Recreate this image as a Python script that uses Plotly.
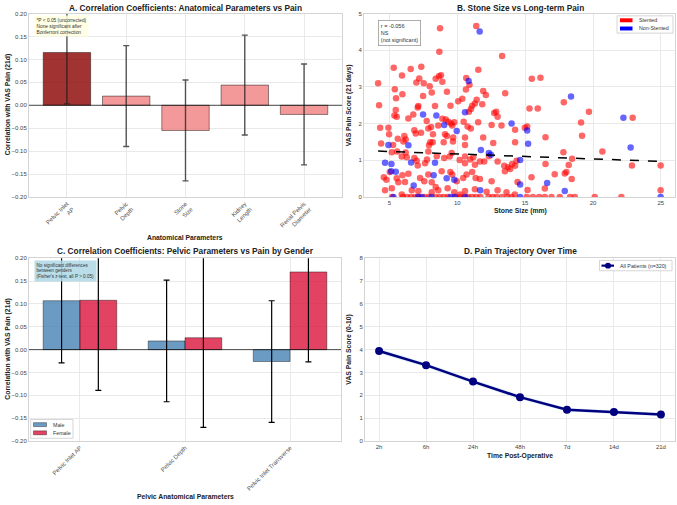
import numpy as np
import plotly.graph_objects as go

# ---------------- Data ----------------
# Panel A
A_PARAMS = ["Pelvic Inlet<br>AP", "Pelvic<br>Depth", "Stone<br>Size", "Kidney<br>Length", "Renal Pelvis<br>Diameter"]
A_CORR = [0.115, 0.020, -0.055, 0.044, -0.020]
A_ERR = [0.112, 0.110, 0.110, 0.109, 0.110]
A_SIG = [True, False, False, False, False]

# Panel B
STENTED_X = [8.73, 11.40, 8.68, 13.30, 5.32, 6.57, 7.35, 5.93, 11.55, 7.20, 6.99, 7.53, 8.41, 8.65, 8.80, 8.90,
             7.97, 4.17, 10.66, 10.90, 10.64, 5.40, 5.96, 8.12, 9.24, 7.48, 5.49, 4.24, 11.91, 12.11, 13.53, 11.43,
             10.37, 10.07, 11.84, 11.30, 11.10, 7.13, 8.36, 9.50,
             15.49, 16.13, 17.85, 19.70, 15.32, 15.93, 12.87, 22.92, 19.12, 19.19, 14.98, 15.15, 16.50, 14.26, 14.26,
             20.69, 17.82, 16.50, 18.46, 18.21, 22.87, 24.98, 14.26, 18.04, 17.92, 17.18, 15.47, 18.43, 14.44, 16.45,
             15.18, 24.98,
             15.12, 15.57, 16.03, 16.45, 16.94, 17.55, 18.31, 18.66, 20.13, 22.09,
             5.47, 5.54, 5.37, 7.09, 11.01, 10.86, 6.76, 6.40, 7.75, 8.90, 9.15, 9.34, 9.54, 9.63, 8.60, 8.07, 7.87,
             9.78, 10.47, 10.76, 11.00, 11.54, 12.53, 13.26, 12.97, 12.72, 4.32, 4.93, 4.98, 5.62, 6.10, 6.03, 6.20,
             5.27, 4.39, 6.84, 6.94, 7.33, 8.21, 9.10, 9.24, 9.00, 8.01, 7.92, 8.19, 9.68, 9.70, 10.57, 10.57, 11.91,
             12.33, 12.65, 6.20, 5.57, 5.18, 5.91, 6.28, 6.84, 7.01, 7.09, 7.63, 7.77, 7.87, 8.49, 9.04, 9.44, 9.59,
             10.18, 10.57, 10.96, 11.18, 11.30, 10.57, 11.67, 11.99, 12.97, 13.46, 13.75, 14.04, 14.37, 5.03, 4.59,
             4.78, 5.54, 5.96, 6.40, 5.66, 6.15, 7.26, 7.57, 7.87, 8.12, 8.41, 8.85, 9.49, 9.63, 9.96, 10.44, 10.69,
             11.10, 11.35, 11.67, 12.53, 13.51, 13.90, 4.68, 5.18, 6.65, 7.13, 8.12, 8.60, 9.29, 9.78, 10.57, 11.30,
             12.16, 12.97, 13.63, 14.24, 5.91, 10.22,
             5.2, 6.0, 6.3, 6.6, 6.9, 7.2, 7.6, 7.9, 8.4, 8.7, 9.0, 9.3, 9.9, 10.2, 10.5, 10.8, 11.1, 11.4, 11.7,
             12.3, 12.6, 12.9, 13.3, 13.7, 14.0]
STENTED_Y = [4.60, 4.66, 3.96, 3.84, 3.52, 3.49, 3.55, 3.31, 3.47, 3.23, 3.12, 3.10, 3.22, 3.29, 3.32, 3.14,
             3.02, 3.10, 3.24, 3.06, 2.93, 2.94, 2.80, 2.85, 2.87, 2.75, 2.69, 2.50, 2.89, 2.78, 2.83, 2.65,
             2.68, 2.61, 2.53, 2.55, 2.49, 2.48, 2.48, 2.49,
             3.22, 3.25, 2.58, 2.32, 2.41, 2.41, 2.32, 2.16, 2.03, 1.67, 1.89, 1.92, 1.63, 1.49, 1.83,
             1.24, 1.22, 0.90, 1.04, 0.87, 0.86, 0.86, 0.85, 0.68, 0.64, 0.62, 0.54, 0.49, 0.41, 0.23,
             0.19, 0.18,
             0, 0, 0, 0, 0, 0, 0, 0, 0, 0,
             2.37, 2.19, 2.22, 2.44, 2.40, 2.32, 2.25, 2.14, 2.07, 2.13, 2.11, 2.05, 2.00, 1.95, 1.95, 1.91, 1.87,
             2.04, 2.05, 1.92, 1.87, 2.04, 1.96, 1.95, 2.19, 2.29, 1.89, 1.89, 1.71, 1.59, 1.66, 1.51, 1.57,
             1.42, 1.46, 1.82, 1.73, 1.75, 1.71, 1.71, 1.66, 1.49, 1.49, 1.41, 1.49, 1.51, 1.62, 1.62, 1.42, 1.62,
             1.11, 1.47, 1.21, 1.24, 1.22, 1.10, 1.08, 1.06, 0.99, 0.86, 0.92, 1.02, 1.24, 1.11, 1.06, 1.10, 1.20,
             1.01, 1.10, 1.02, 1.08, 0.88, 0.92, 0.97, 0.97, 0.97, 0.85, 0.81, 0.90, 0.99, 0.68, 0.54,
             0.47, 0.51, 0.59, 0.63, 0.40, 0.41, 0.52, 0.43, 0.61, 0.40, 0.27, 0.70, 0.68, 0.61, 0.43, 0.52, 0.61,
             0.68, 0.52, 0.49, 0.43, 0.70, 0.76, 0.18, 0.24, 0.18, 0.16, 0.13, 0.18, 0.24, 0.13, 0.16, 0.21,
             0.14, 0.18, 0.13, 0.07, 0.07, 0.07,
             0, 0, 0, 0, 0, 0, 0, 0, 0, 0, 0, 0, 0, 0, 0, 0, 0, 0, 0,
             0, 0, 0, 0, 0, 0]
NONSTENTED_X = [11.65, 10.84, 18.38, 22.24, 15.15, 15.22, 22.77, 14.63, 14.63, 16.62, 17.92,
                7.48, 8.46, 10.57, 9.04, 9.96, 14.00, 4.93, 6.40, 11.74, 12.33, 12.48, 4.68, 5.15, 6.60, 8.36,
                5.13, 5.47, 6.79, 8.26, 9.22, 9.78, 11.69,
                5.3, 7.1, 7.4, 8.1, 9.5, 9.8, 10.6, 14.63, 24.98]
NONSTENTED_Y = [4.51, 3.16, 2.74, 2.16, 1.81, 1.45, 1.35, 1.01, 0.34, 0.38, 0.16,
                2.25, 2.22, 2.31, 1.96, 1.80, 2.00, 1.42, 1.41, 1.28, 1.20, 1.15, 0.93, 0.90, 0.94, 0.93,
                0.70, 0.69, 0.31, 0.59, 0.51, 0.47, 0.18,
                0, 0, 0, 0, 0, 0, 0, 0, 0]
# regression line of the full cohort as drawn in the reference (slope, intercept)
TREND_SLOPE = -0.0135
TREND_INTERCEPT = 1.307
B_R_TEXT = "r = -0.056<br>NS<br>(not significant)"
B_GROUPS = ["Stented", "Non-Stented"]

# Panel C
C_PARAMS = ["Pelvic Inlet AP", "Pelvic Depth", "Pelvic Inlet Transverse"]
C_GENDERS = ["Male", "Female"]
C_MALE = [0.107, 0.019, -0.026]
C_MALE_ERR = [0.136, 0.133, 0.133]
C_FEMALE = [0.108, 0.026, 0.170]
C_FEMALE_ERR = [0.197, 0.196, 0.197]

# Panel D
D_TIMES = ["2h", "6h", "24h", "48h", "7d", "14d", "21d"]
D_MEAN = [3.94, 3.32, 2.60, 1.92, 1.37, 1.27, 1.16]
D_LOW = [3.84, 3.23, 2.51, 1.83, 1.29, 1.19, 1.08]
D_HIGH = [4.04, 3.41, 2.69, 2.01, 1.45, 1.35, 1.24]
D_LABEL = "All Patients (n=320)"

# ---------------- Layout helpers ----------------
W, H = 677, 505
FONT = "Liberation Sans, Arial, sans-serif"
def px_x(p): return p / W
def px_y(p): return 1 - p / H

GRID = "#e9e9e9"
SPINE = "#d4d4d4"
TICKFONT = dict(family=FONT, size=6, color="#444")
CATFONT = dict(family=FONT, size=6, color="#555")
RED = "rgba(255,0,0,0.6)"
BLUE = "rgba(0,0,255,0.6)"
MALE_C = "rgba(70,130,180,0.8)"
FEMALE_C = "rgba(220,20,60,0.8)"
NAVY = "#000080"

fig = go.Figure()

# ---- Panel A ----
a_x = list(range(len(A_CORR)))
fig.add_trace(go.Bar(
    x=a_x, y=A_CORR, width=0.8,
    marker=dict(color=["rgba(139,0,0,0.8)" if s else "rgba(240,128,128,0.8)" for s in A_SIG],
                line=dict(color="rgba(0,0,0,0.55)", width=0.8)),
    error_y=dict(type="data", array=A_ERR, color="rgba(30,30,30,0.75)", thickness=1.4, width=3),
    xaxis="x", yaxis="y", showlegend=False))

# ---- Panel B ----
fig.add_trace(go.Scatter(x=STENTED_X, y=STENTED_Y, mode="markers",
                         marker=dict(color=RED, size=6.5, line=dict(width=0)),
                         xaxis="x2", yaxis="y2", showlegend=False))
fig.add_trace(go.Scatter(x=NONSTENTED_X, y=NONSTENTED_Y, mode="markers",
                         marker=dict(color=BLUE, size=6.5, line=dict(width=0)),
                         xaxis="x2", yaxis="y2", showlegend=False))
all_x = np.array(STENTED_X + NONSTENTED_X)
tx = np.array([all_x.min(), all_x.max()])
fig.add_trace(go.Scatter(x=tx, y=TREND_SLOPE * tx + TREND_INTERCEPT, mode="lines",
                         line=dict(color="black", width=1.5, dash="dash"),
                         xaxis="x2", yaxis="y2", showlegend=False))

# ---- Panel C ----
c_idx = np.arange(len(C_PARAMS))
bw = 0.35
fig.add_trace(go.Bar(x=c_idx - bw / 2, y=C_MALE, width=bw, name="Male",
                     marker=dict(color=MALE_C, line=dict(color="rgba(0,0,0,0.5)", width=0.8)),
                     error_y=dict(type="data", array=C_MALE_ERR, color="black", thickness=1.2, width=3),
                     xaxis="x3", yaxis="y3", showlegend=False))
fig.add_trace(go.Bar(x=c_idx + bw / 2, y=C_FEMALE, width=bw, name="Female",
                     marker=dict(color=FEMALE_C, line=dict(color="rgba(0,0,0,0.5)", width=0.8)),
                     error_y=dict(type="data", array=C_FEMALE_ERR, color="black", thickness=1.2, width=3),
                     xaxis="x3", yaxis="y3", showlegend=False))

# ---- Panel D ----
d_x = list(range(len(D_TIMES)))
fig.add_trace(go.Scatter(x=d_x + d_x[::-1], y=D_HIGH + D_LOW[::-1], fill="toself",
                         fillcolor="rgba(173,216,230,0.45)", line=dict(width=0),
                         mode="lines", hoverinfo="skip", xaxis="x4", yaxis="y4", showlegend=False))
fig.add_trace(go.Scatter(x=d_x, y=D_MEAN, mode="lines+markers", name=D_LABEL,
                         line=dict(color=NAVY, width=2.5), marker=dict(color=NAVY, size=8),
                         xaxis="x4", yaxis="y4", showlegend=False))

# ---------------- Axes ----------------
A_X = [px_x(29), px_x(342)]
B_X = [px_x(364), px_x(675)]
C_X = [px_x(29), px_x(341)]
D_X = [px_x(365), px_x(675)]
TOP_Y = [px_y(196.3), px_y(10.7)]
BOT_Y = [px_y(443.3), px_y(258.3)]

def ax(**kw):
    base = dict(showgrid=True, gridcolor=GRID, gridwidth=0.8, zeroline=False, showline=True,
                linecolor=SPINE, linewidth=1, mirror=True, ticks="", tickfont=TICKFONT)
    base.update(kw)
    return base

corr_ticks = [-0.2, -0.15, -0.1, -0.05, 0.0, 0.05, 0.1, 0.15, 0.2]
corr_text = ["\u22120.20", "\u22120.15", "\u22120.10", "\u22120.05", "0.00", "0.05", "0.10", "0.15", "0.20"]

fig.update_layout(
    width=W, height=H, margin=dict(l=0, r=0, t=0, b=0),
    paper_bgcolor="white", plot_bgcolor="white", barmode="overlay", showlegend=False,
    font=dict(family=FONT, color="#222"),
    xaxis=ax(domain=A_X, anchor="y", range=[-0.64, 4.64], tickvals=a_x, ticktext=A_PARAMS, tickangle=-45,
             tickfont=CATFONT),
    yaxis=ax(domain=TOP_Y, anchor="x", range=[-0.2, 0.2], tickvals=corr_ticks, ticktext=corr_text),
    xaxis2=ax(domain=B_X, anchor="y2", range=[3.13, 26.04], tickvals=[5, 10, 15, 20, 25]),
    yaxis2=ax(domain=TOP_Y, anchor="x2", range=[0, 5], tickvals=[0, 1, 2, 3, 4, 5]),
    xaxis3=ax(domain=C_X, anchor="y3", range=[-0.485, 2.485], tickvals=list(c_idx), ticktext=C_PARAMS,
              tickangle=-45, tickfont=CATFONT),
    yaxis3=ax(domain=BOT_Y, anchor="x3", range=[-0.2, 0.2], tickvals=corr_ticks, ticktext=corr_text),
    xaxis4=ax(domain=D_X, anchor="y4", range=[-0.3, 6.3], tickvals=d_x, ticktext=D_TIMES),
    yaxis4=ax(domain=BOT_Y, anchor="x4", range=[0, 8], tickvals=list(range(9))),
)

# zero lines
for xr, yr in [("x domain", "y"), ("x3 domain", "y3")]:
    fig.add_shape(type="line", xref=xr, yref=yr, x0=0, x1=1, y0=0, y1=0,
                  line=dict(color="rgba(0,0,0,0.7)", width=1))

# ---------------- Text ----------------
def txt(x, y, text, size, bold=False, angle=0, xanchor="center", color="#222"):
    fig.add_annotation(x=px_x(x), y=px_y(y), xref="paper", yref="paper",
                       text=f"<b>{text}</b>" if bold else text, xanchor=xanchor, yanchor="middle",
                       showarrow=False, textangle=angle, font=dict(family=FONT, size=size, color=color))

def rect(x0, y0, x1, y1, fill, line_color=None, lw=0.8):
    fig.add_shape(type="rect", xref="paper", yref="paper", x0=px_x(x0), x1=px_x(x1), y0=px_y(y1), y1=px_y(y0),
                  fillcolor=fill, line=dict(color=line_color or "rgba(0,0,0,0)", width=lw if line_color else 0),
                  layer="above")

txt(185, 5, "A. Correlation Coefficients: Anatomical Parameters vs Pain", 8.3, True)
txt(520, 5, "B. Stone Size vs Long-term Pain", 8.3, True)
txt(185, 251, "C. Correlation Coefficients: Pelvic Parameters vs Pain by Gender", 8.3, True)
txt(520, 251, "D. Pain Trajectory Over Time", 8.3, True)
txt(185, 237, "Anatomical Parameters", 6.8, True)
txt(520, 211, "Stone Size (mm)", 6.8, True)
txt(185, 499, "Pelvic Anatomical Parameters", 6.8, True)
txt(520, 458, "Time Post-Operative", 6.8, True)
txt(8, 103.5, "Correlation with VAS Pain (21d)", 6.8, True, -90)
txt(349, 103.5, "VAS Pain Score (21 days)", 6.8, True, -90)
txt(8, 350.8, "Correlation with VAS Pain (21d)", 6.8, True, -90)
txt(349, 350.8, "VAS Pain Score (0-10)", 6.8, True, -90)

# boxed notes
fig.add_annotation(x=px_x(34), y=px_y(12.5), xref="paper", yref="paper", xanchor="left", yanchor="top",
                   text="*P < 0.05 (uncorrected)<br>None significant after<br>Bonferroni correction",
                   align="left", showarrow=False, bgcolor="rgba(255,255,224,0.85)", borderpad=1.5,
                   font=dict(family=FONT, size=4.8, color="#333"))
fig.add_annotation(x=px_x(34), y=px_y(260), xref="paper", yref="paper", xanchor="left", yanchor="top",
                   text="No significant differences<br>between genders<br>(Fisher's z-test, all P > 0.05)",
                   align="left", showarrow=False, bgcolor="rgba(173,216,230,0.85)", borderpad=1.5,
                   font=dict(family=FONT, size=4.6, color="#333"))
fig.add_annotation(x=px_x(378), y=px_y(17), xref="paper", yref="paper", xanchor="left", yanchor="top",
                   text=B_R_TEXT, align="left", showarrow=False, bgcolor="white", bordercolor="#999",
                   borderwidth=0.8, borderpad=2, font=dict(family=FONT, size=5.5, color="#333"))

# ---------------- Legends (drawn manually for compact size) ----------------
LEG_FONT = 5.3
# Panel B legend
rect(617, 13, 673, 30.5, "white", "#cccccc")
for i, (name, col) in enumerate(zip(B_GROUPS, ["red", "blue"])):
    yc = 17.5 + i * 8.3
    rect(620, yc - 2, 632.5, yc + 2, col)
    txt(636.5, yc, name, LEG_FONT, xanchor="left", color="#333")
# Panel C legend
rect(30.7, 421.5, 73, 440.5, "white", "#cccccc")
for i, (name, col) in enumerate(zip(C_GENDERS, [MALE_C, FEMALE_C])):
    yc = 426.7 + i * 8.3
    rect(33.5, yc - 2, 46.5, yc + 2, col, "rgba(0,0,0,0.6)", 0.6)
    txt(50.5, yc, name, LEG_FONT, xanchor="left", color="#333")
# Panel D legend
rect(599.5, 260.5, 672, 271, "white", "#cccccc")
fig.add_shape(type="line", xref="paper", yref="paper", x0=px_x(601.5), x1=px_x(614), y0=px_y(265.8),
              y1=px_y(265.8), line=dict(color=NAVY, width=2.2), layer="above")
fig.add_shape(type="circle", xref="paper", yref="paper", x0=px_x(605), x1=px_x(611), y0=px_y(268.8),
              y1=px_y(262.8), fillcolor=NAVY, line=dict(width=0), layer="above")
txt(617.5, 265.8, D_LABEL, LEG_FONT, xanchor="left", color="#333")

fig.write_html("out.html")
